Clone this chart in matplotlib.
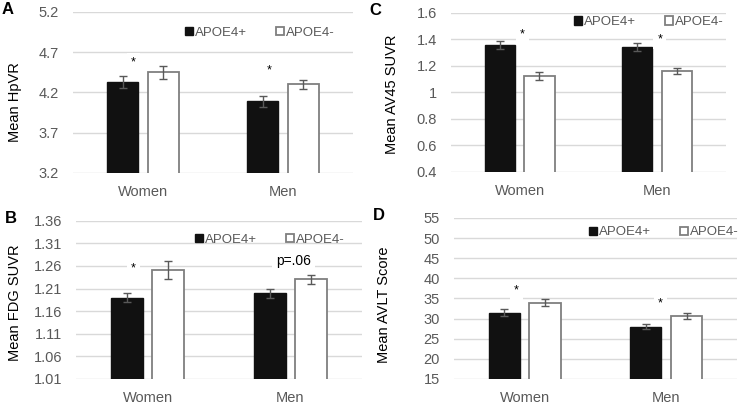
import numpy as np
import matplotlib.pyplot as plt

plt.rcParams['font.family'] = ['Liberation Sans', 'DejaVu Sans']

groups = ["Women", "Men"]
series = ["APOE4+", "APOE4-"]

# panel A - hippocampal volume ratio
hpvr_pos = [4.33, 4.09]
hpvr_neg = [4.45, 4.30]
hpvr_pos_err = [0.07, 0.07]
hpvr_neg_err = [0.08, 0.06]

# panel B - FDG
fdg_pos = [1.19, 1.20]
fdg_neg = [1.25, 1.23]
fdg_pos_err = [0.01, 0.01]
fdg_neg_err = [0.02, 0.01]

# panel C - AV45
av45_pos = [1.36, 1.34]
av45_neg = [1.12, 1.16]
av45_pos_err = [0.03, 0.03]
av45_neg_err = [0.03, 0.02]

# panel D - AVLT
avlt_pos = [31.5, 28.0]
avlt_neg = [34.0, 30.6]
avlt_pos_err = [0.8, 0.6]
avlt_neg_err = [0.8, 0.7]

GRAY = "#595959"
GRID = "#d9d9d9"

fig = plt.figure(figsize=(7.38, 4.07), dpi=100)

panels = [
    # letter, rect, pos, neg, errs, yticks, ticklabels, ylabel, label coords, notes, legend anchor
    ("A", [0.0989, 0.575, 0.3794, 0.3956], hpvr_pos, hpvr_neg, hpvr_pos_err, hpvr_neg_err,
     [3.2, 3.7, 4.2, 4.7, 5.2], ["3.2", "3.7", "4.2", "4.7", "5.2"], "Mean HpVR", (-0.182, 0.44),
     [(-0.07, 4.57, "*"), (-0.10, 4.47, "*")], (0.954, 0.87)),
    ("C", [0.611, 0.578, 0.3726, 0.3907], av45_pos, av45_neg, av45_pos_err, av45_neg_err,
     [0.4, 0.6, 0.8, 1.0, 1.2, 1.4, 1.6], ["0.4", "0.6", "0.8", "1", "1.2", "1.4", "1.6"],
     "Mean AV45 SUVR", (-0.189, 0.486),
     [(0.02, 1.44, "*"), (0.02, 1.40, "*")], (1.01, 0.94)),
    ("B", [0.103, 0.0688, 0.3875, 0.389], fdg_pos, fdg_neg, fdg_pos_err, fdg_neg_err,
     [1.01, 1.06, 1.11, 1.16, 1.21, 1.26, 1.31, 1.36],
     ["1.01", "1.06", "1.11", "1.16", "1.21", "1.26", "1.31", "1.36"],
     "Mean FDG SUVR", (-0.189, 0.48),
     [(-0.10, 1.254, "*"), (0.02, 1.27, "p=.06")], (0.958, 0.88)),
    ("D", [0.615, 0.0688, 0.3835, 0.3956], avlt_pos, avlt_neg, avlt_pos_err, avlt_neg_err,
     [15, 20, 25, 30, 35, 40, 45, 50, 55],
     ["15", "20", "25", "30", "35", "40", "45", "50", "55"],
     "Mean AVLT Score", (-0.223, 0.46),
     [(-0.06, 37.0, "*"), (-0.04, 33.7, "*")], (1.025, 0.91)),
]

x = np.arange(len(groups))
w = 0.22
off = 0.144

for letter, rect, pos, neg, pos_err, neg_err, yt, ytl, ylab, lab_xy, notes, leg_xy in panels:
    ax = fig.add_axes(rect)
    ax.bar(x - off, pos, w, yerr=pos_err, color="#111111", edgecolor="#111111",
           linewidth=1, label=series[0], zorder=3,
           error_kw=dict(ecolor=GRAY, elinewidth=1, capsize=3, capthick=1))
    ax.bar(x + off, neg, w, yerr=neg_err, color="white", edgecolor="#7f7f7f",
           linewidth=1.3, label=series[1], zorder=3,
           error_kw=dict(ecolor=GRAY, elinewidth=1, capsize=3, capthick=1))
    ax.set_xlim(-0.5, 1.5)
    ax.set_ylim(yt[0], yt[-1])
    ax.set_yticks(yt)
    ax.set_yticklabels(ytl)
    ax.set_xticks(x)
    ax.set_xticklabels(groups)
    ax.tick_params(axis="both", length=0, labelsize=10.5, colors=GRAY)
    ax.tick_params(axis="x", pad=9)
    ax.tick_params(axis="y", pad=10)
    ax.grid(axis="y", color=GRID, linewidth=1, zorder=0)
    ax.set_axisbelow(True)
    for s in ax.spines.values():
        s.set_visible(False)
    ax.set_ylabel(ylab, fontsize=10.5, color="black")
    ax.yaxis.set_label_coords(*lab_xy)
    for i, (dx, yy, txt) in enumerate(notes):
        ax.text(i + dx, yy, txt, ha="center", va="center",
                fontsize=10 if txt != "*" else 9, color="black", zorder=4,
                bbox=dict(facecolor="white", edgecolor="none", pad=3))
    ax.legend(loc="center right", bbox_to_anchor=leg_xy, ncol=2, frameon=False,
              fontsize=9.5, handlelength=0.6, handleheight=0.6, handletextpad=0.15,
              columnspacing=2.2, labelcolor=GRAY, borderaxespad=0)
    fig.text(rect[0] - 0.097 if letter in "AB" else rect[0] - 0.11,
             rect[1] + rect[3] + 0.005, letter, fontsize=12, fontweight="bold",
             ha="left", va="center")

fig.savefig("out.png", dpi=100)
